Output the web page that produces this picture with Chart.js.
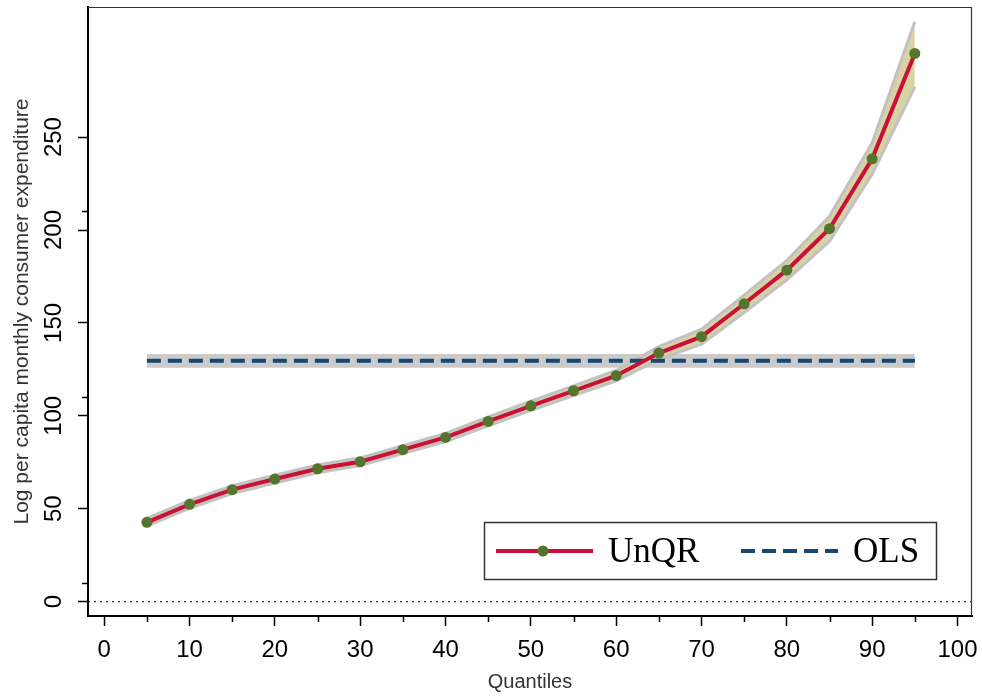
<!DOCTYPE html>
<html>
<head>
<meta charset="utf-8">
<script src="https://cdn.jsdelivr.net/npm/chart.js@4.4.1/dist/chart.umd.min.js"></script>
<style>
  body { margin: 0; background: #fff; }
  canvas { display: block; }
</style>
</head>
<body>
<canvas id="myChart" width="982" height="696"></canvas>
<script>
// data
const quantiles = [5, 10, 15, 20, 25, 30, 35, 40, 45, 50, 55, 60, 65, 70, 75, 80, 85, 90, 95];
const unqr      = [42.7, 52.4, 60.3, 66, 71.5, 75.3, 81.8, 88.4, 97, 105.4, 113.5, 121.6, 133.8, 142.6, 160.3, 178.4, 200.7, 238.3, 295];
const unqrUpper = [44.8, 54.5, 62.4, 68.1, 73.6, 77.4, 83.9, 90.6, 99.4, 107.9, 116.1, 124.4, 137.2, 146.6, 165, 183.6, 207.4, 247, 312];
const unqrLower = [40.6, 50.3, 58.2, 63.9, 69.4, 73.2, 79.7, 86.2, 94.6, 102.9, 110.9, 118.8, 130.4, 138.6, 155.6, 173.2, 194, 230, 277];

const olsRange = [5, 95];
const olsEstimate = [129.6, 129.6];
const olsUpper = [133.3, 133.3];
const olsLower = [125.9, 125.9];

const xTicks = [0, 10, 20, 30, 40, 50, 60, 70, 80, 90, 100];
const xMinorTicks = [5, 15, 25, 35, 45, 55, 65, 75, 85, 95];
const yTicks = [0, 50, 100, 150, 200, 250];
const yMinorTicks = [10, 110, 210];
const xLimits = [-1.9, 101.7];
const yLimits = [-7.7, 320];

const pts = (xs, ys) => xs.map((x, i) => ({x: x, y: ys[i]}));

const red = '#c8103a';
const green = '#55752f';
const navy = '#1a476f';

// minor ticks, plot frame and the boxed legend
const extras = {
  id: 'extras',
  afterDraw(chart) {
    const ctx = chart.ctx;
    const a = chart.chartArea;
    const xs = chart.scales.x, ys = chart.scales.y;
    ctx.save();
    ctx.strokeStyle = '#000';
    ctx.lineWidth = 1.5;
    ctx.beginPath();
    xMinorTicks.forEach(v => {
      const px = Math.round(xs.getPixelForValue(v)) + 0.5;
      ctx.moveTo(px, a.bottom); ctx.lineTo(px, a.bottom + 6);
    });
    yMinorTicks.forEach(v => {
      const py = Math.round(ys.getPixelForValue(v)) + 0.5;
      ctx.moveTo(a.left, py); ctx.lineTo(a.left - 6, py);
    });
    ctx.stroke();

    ctx.strokeStyle = '#333';
    ctx.lineWidth = 1.2;
    ctx.beginPath();
    ctx.moveTo(a.left, a.top + 0.5); ctx.lineTo(a.right - 0.5, a.top + 0.5); ctx.lineTo(a.right - 0.5, a.bottom);
    ctx.stroke();

    // legend
    const bw = 452, bh = 57;
    const bx = a.right - 36 - bw, by = a.bottom - 37 - bh;
    ctx.strokeStyle = '#333';
    ctx.lineWidth = 1.5;
    ctx.strokeRect(bx + 0.5, by + 0.5, bw, bh);
    const cy = by + bh / 2 + 0.5;
    const d0 = chart.data.datasets[0], d1 = chart.data.datasets[1];
    ctx.strokeStyle = d0.borderColor;
    ctx.lineWidth = 4;
    ctx.beginPath(); ctx.moveTo(bx + 12, cy); ctx.lineTo(bx + 109, cy); ctx.stroke();
    ctx.fillStyle = d0.pointBackgroundColor;
    ctx.beginPath(); ctx.arc(bx + 59, cy, 5.5, 0, Math.PI * 2); ctx.fill();
    ctx.strokeStyle = d1.borderColor;
    ctx.setLineDash(d1.borderDash);
    ctx.beginPath(); ctx.moveTo(bx + 257, cy); ctx.lineTo(bx + 354, cy); ctx.stroke();
    ctx.setLineDash([]);
    ctx.fillStyle = '#000';
    ctx.font = '35px "Liberation Serif", "Times New Roman", serif';
    ctx.textBaseline = 'alphabetic';
    ctx.fillText(d0.label, bx + 124, by + 40);
    ctx.fillText(d1.label, bx + 369, by + 40);
    ctx.restore();
  }
};

const ctx = document.getElementById('myChart');
const myChart = new Chart(ctx, {
  type: 'line',
  data: {
    datasets: [
      {
        label: 'UnQR',
        data: pts(quantiles, unqr),
        borderColor: red,
        borderWidth: 4,
        pointRadius: 5.5,
        pointBackgroundColor: green,
        pointBorderWidth: 0,
        fill: false
      },
      {
        label: 'OLS',
        data: pts(olsRange, olsEstimate),
        borderColor: navy,
        borderWidth: 4,
        borderDash: [14, 7],
        pointRadius: 0,
        fill: false
      },
      {
        label: 'UnQR upper',
        data: pts(quantiles, unqrUpper),
        borderColor: '#c2c2c2',
        borderWidth: 3,
        pointRadius: 0,
        fill: false
      },
      {
        label: 'UnQR lower',
        data: pts(quantiles, unqrLower),
        borderColor: '#c2c2c2',
        borderWidth: 3,
        pointRadius: 0,
        backgroundColor: '#d9d3a3',
        fill: 2
      },
      {
        label: 'OLS upper',
        data: pts(olsRange, olsUpper),
        borderWidth: 0,
        borderColor: 'rgba(0,0,0,0)',
        pointRadius: 0,
        backgroundColor: '#cbcbcb',
        fill: 5
      },
      {
        label: 'OLS lower',
        data: pts(olsRange, olsLower),
        borderWidth: 0,
        borderColor: 'rgba(0,0,0,0)',
        pointRadius: 0,
        fill: false
      },
      {
        label: 'zero',
        data: pts(xLimits, [0, 0]),
        borderColor: '#000',
        borderWidth: 1,
        borderDash: [2, 4],
        pointRadius: 0,
        fill: false
      }
    ]
  },
  options: {
    responsive: false,
    animation: false,
    layout: { padding: { top: 7, right: 10, left: 0, bottom: 0 } },
    plugins: {
      legend: { display: false },
      tooltip: { enabled: false }
    },
    scales: {
      x: {
        type: 'linear',
        min: xLimits[0],
        max: xLimits[1],
        afterBuildTicks: s => { s.ticks = xTicks.map(v => ({value: v})); },
        afterFit: s => { s.height = 80; s.paddingLeft = 0; s.paddingRight = 0; },
        grid: { drawOnChartArea: false, drawTicks: true, tickLength: 10, tickWidth: 1.5, tickColor: '#000' },
        border: { display: true, color: '#000', width: 2 },
        ticks: {
          color: '#000',
          padding: 10,
          maxRotation: 0,
          font: { family: '"Liberation Sans", Arial, sans-serif', size: 24 }
        },
        title: {
          display: true,
          text: 'Quantiles',
          color: '#333',
          padding: { top: 0, bottom: 2 },
          font: { family: '"Liberation Sans", Arial, sans-serif', size: 20 }
        }
      },
      y: {
        type: 'linear',
        min: yLimits[0],
        max: yLimits[1],
        afterBuildTicks: s => { s.ticks = yTicks.map(v => ({value: v})); },
        afterFit: s => { s.width = 88; s.paddingTop = 0; s.paddingBottom = 0; },
        grid: { drawOnChartArea: false, drawTicks: true, tickLength: 10, tickWidth: 1.5, tickColor: '#000' },
        border: { display: true, color: '#000', width: 2 },
        ticks: {
          color: '#000',
          padding: 4,
          minRotation: 90,
          maxRotation: 90,
          crossAlign: 'center',
          font: { family: '"Liberation Sans", Arial, sans-serif', size: 24 }
        },
        title: {
          display: true,
          text: 'Log per capita monthly consumer expenditure',
          color: '#333',
          padding: { top: 10, bottom: 0 },
          font: { family: '"Liberation Sans", Arial, sans-serif', size: 21 }
        }
      }
    }
  },
  plugins: [extras]
});
</script>
</body>
</html>
